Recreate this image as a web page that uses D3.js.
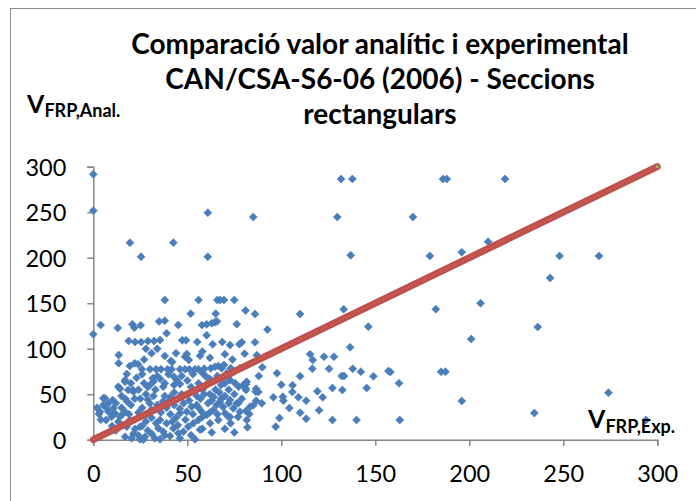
<!DOCTYPE html>
<html>
<head>
<meta charset="utf-8">
<script src="https://cdn.jsdelivr.net/npm/d3@7"></script>
<style>
  html, body { margin: 0; padding: 0; background: #fff; }
  svg { display: block; }
</style>
</head>
<body>
<svg id="chart" width="696" height="501"></svg>
<script>
// ---------- data ----------
const titleLines = ["Comparació valor analític i experimental", "CAN/CSA-S6-06 (2006) - Seccions", "rectangulars"];
const xTicks = [0, 50, 100, 150, 200, 250, 300];
const yTicks = [0, 50, 100, 150, 200, 250, 300];
// reference line (analytic = experimental)
const refLineX = [0, 300];
const refLineY = [0, 300];
// scatter points [V_FRP,Exp. , V_FRP,Anal.]
const scatterPoints = [
  // sparse upper / right
  [0,291.7],[0,251.7],[19.5,216.5],[25.4,201],[42.6,216.5],[60.9,249.5],[60.9,201],[85.1,244.7],
  [129.8,244.7],[131.8,286.5],[137.8,286.5],[136.9,202.6],
  [38,153.5],[56,153.5],[66,153.5],[67.5,153.5],[69.5,153.5],[75,153.5],
  [186,286.5],[188,286.5],[219,286.5],[170,244.7],[179,202],[196,206],[210,217.6],[248,202],[269,202],[243,177.7],
  [206,150],[201,110.6],[236.4,123.8],[196,42.5],[234.6,29.3],[274,51.7],[294,21.6],
  // middle region
  [81,142],[86,138],[110,138],[133.2,143.3],[182.2,143.3],[76.3,127],[92.6,121],[146.3,124.2],
  [77.7,105],[79,107],[72.7,104],[86,107],[80.5,94.5],[87,92.8],[136.6,101.5],[115.3,93.8],[116.7,87.6],
  [122.7,91.2],[128,91.2],[89.9,79.6],[72.7,65.6],[88,70],[97.7,73],[110,69.7],[116.5,78],[125.4,78],
  [132.1,70],[133.4,70],[138,78],[142.3,74.7],[149,69.7],[157,75.5],[158,74.4],[185,74.7],[187.3,74.7],
  [162.6,62],[81.2,60.9],[81.2,54.6],[86.6,56],[87.8,52.4],[100,60.4],[106,59.8],[105.9,52.4],[119.2,53.2],
  [127.2,56.8],[132.5,54.6],[145.4,56.8],[72.7,43.6],[77.1,40],[86.6,42.9],[85.1,37.8],[89.6,40],[95.8,46.6],
  [100.8,47.3],[101.1,42.9],[109.1,46.6],[113.2,42.9],[122,46.6],[104.3,34.8],[110,29.7],[120.1,32.3],
  [72.7,25],[81.2,31.5],[83,28.2],[99,23.8],[113.2,23.1],[127.2,21.6],[140,21.6],[163,21.6],[82,13.6],[97,14.3],
  // dense cluster, upper part
  [0,116],[3.9,126],[13,122.8],[20.8,126.8],[21.8,123],[25.2,125.7],
  [51.8,138.5],[65.1,138.5],[35,130],[38,130.8],[45.2,126],[57.8,126],[60.3,126.8],[63,127.9],[64.6,129],[65.8,130],
  [18.8,108.5],[22.2,107.4],[25.5,107.4],[29.1,108.5],[32.3,108.5],[35.5,109.5],
  [39,117],[47.3,109.2],[49.3,109.2],[55.3,107.4],[60.3,114.7],[63.5,104.8],[68.6,107.4],
  [13.5,93],[13.5,84],[49.7,94.2],[48.8,91.2],[50.8,87.6],[56.8,92.3],[42,85.4],
  [19.4,81],[22,84],[23.8,82.9],
  [25.9,77.4],[30.2,77.4],[33.4,77.4],[36,77.4],[39.5,77.4],[41.7,77.4],[46.1,77.4],[48.8,77.4],[51.1,77.4],
  [54.1,77.4],[55.9,77.4],[62.5,78.5],[68.3,78.5],[73.1,78.5],[78,78.5],
  [41.2,86.5],[17.8,72.2],[16.9,63.7],[14.2,56],[21,54.6],[31.6,67.5],[35.5,67],[37.2,58.2],[42.9,69.2],
  [44.4,65.6],[46.1,61.2],[58.2,73],[60,69.2],[61.7,67],[64.7,80.2],[66.5,81],[69.5,82.1],[71,73],
  [75.4,62],[77.3,58.2],[79.8,60.1],[80.9,56.5],[81.6,63.7],[86.4,52.8],
  [18.6,54.6],[21.3,52.8],[16.9,65.6],[13.3,58.2],
  [27,88],[31,95],[34,100],[44,95],[58,97],[62,90],[70,94],[74,88],[38,92],[28,100],
  [20,62],[23,68],[26,72],[29,58],[32,64],[34,70],[38,62],[40,72],[43,60],[47,70],[50,65],[53,72],
  [56,62],[59,78],[63,65],[66,70],[69,68],[72,70],[75,75],
  // dense cluster, lower part
  [6.2,45.5],[10.3,43.6],[5.3,38.1],[7.1,34.5],[10.6,34.5],[3.6,30.8],[3,28.2],[8,30.8],[11.5,29],
  [9.8,25.3],[14.2,25.3],[16,29],[6.8,21.6],[13.3,19.8],[5.3,45.5],
  [25,45],[28,50],[30,40],[33,55],[38,48],[40,42],[43,52],[45,45],[48,40],[50,50],[52,58],[55,48],
  [58,55],[60,60],[62,50],[65,55],[68,60],[70,48],[72,55],[57,45],[63,43],[68,45],[30,60],[27,62],[24,55],
  [12,40],[15,35],[18,42],[20,38],[22,45],[24,30],[26,35],[28,28],[29,44],[31,33],[32,48],[34,38],[36,30],
  [37,42],[39,35],[41,28],[41,47],[43,38],[44,24],[46,34],[47,50],[49,22],[51,43],[53,28],[54,53],[56,35],
  [58,25],[59,50],[61,40],[62,30],[64,47],[66,28],[67,52],[69,36],[70,62],[72,40],[73,18],[75,50],[77,25],
  [79,45],[8,40],[2,35],[4,22],[15,48],[17,45],
  // under the reference line
  [16.9,30.8],[19.5,21.6],[17.8,14.3],[22.2,11.8],[24.8,14.3],[21.3,6.3],[23.9,4.8],[27.5,3.3],[31.1,6.3],
  [34.6,12.5],[37.2,8.8],[33.4,18],[35.5,21.6],[39,18],[42.6,12.5],[45.2,7],[47.9,8.8],[50.5,14.3],[53.2,18],
  [55.9,21.6],[46.1,29],[49.7,30.8],[52.3,36.3],[55,38.1],[57.7,30.8],[60.3,27.1],[63.8,32.6],[65.6,38.1],
  [67.4,41.8],[70.1,29],[71.8,25.3],[74.5,34.5],[76.3,40],[78,30.8],[81.6,21.6],[83.4,36.3],[66.5,21.6],
  [62.1,18],[56.8,11],[54.1,0.4],[46.1,1.5],[40.8,4],[26.6,0],[20.4,1.5],[16.9,3.3],[32.8,1.5],[35.5,0.4],[24.8,0.4],
  [28,20],[31,24],[26,15],[19,28],[42,20],[45,16],[58,12],[63,8],[70,12],[75,8],[52,5],[29,10],[38,5],[10,15],[12,10]
];

// ---------- layout ----------
const svg = d3.select("#chart");
const x = d3.scaleLinear().domain([0, 300]).range([93.3, 657.3]);
const y = d3.scaleLinear().domain([0, 300]).range([439.7, 166.7]);
const axisColor = "#868686";
const fontFam = "Lato, 'Open Sans', sans-serif";

// outer chart border
svg.append("rect")
  .attr("x", 10.5).attr("y", 8.5)
  .attr("width", 720).attr("height", 520)
  .attr("fill", "none").attr("stroke", "#8c8c8c").attr("stroke-width", 1);

// title
svg.append("text")
  .attr("text-anchor", "middle")
  .attr("font-family", fontFam)
  .attr("font-weight", "bold")
  .attr("font-size", 28)
  .attr("fill", "#000")
  .selectAll("tspan").data(titleLines).join("tspan")
  .attr("x", 380)
  .attr("y", (d, i) => 54 + i * 35)
  .text(d => d);

// axes
const yAxis = svg.append("g")
  .attr("transform", `translate(${x(0)},0)`)
  .call(d3.axisLeft(y).tickValues(yTicks).tickSize(6).tickPadding(21).tickFormat(d3.format("d")));
const xAxis = svg.append("g")
  .attr("transform", `translate(0,${y(0)})`)
  .call(d3.axisBottom(x).tickValues(xTicks).tickSize(6).tickFormat(d3.format("d")));

[yAxis, xAxis].forEach(g => {
  g.select(".domain").attr("stroke", axisColor).attr("stroke-width", 1.5);
  g.selectAll(".tick line").attr("stroke", axisColor).attr("stroke-width", 1.5);
  g.selectAll(".tick text")
    .attr("font-family", fontFam)
    .attr("font-size", 23.5)
    .attr("fill", "#000");
});
xAxis.selectAll(".tick text").attr("y", 42).attr("dy", 0);
yAxis.selectAll(".tick text").attr("dy", "0.36em");

// scatter points (diamonds)
const diamond = d3.symbol().type(d3.symbolSquare).size(32);
svg.append("g").selectAll("path").data(scatterPoints).join("path")
  .attr("d", diamond)
  .attr("transform", d => `translate(${x(d[0])},${y(d[1])}) rotate(45)`)
  .attr("fill", "#4a7ebb")
  .attr("stroke", "#4a7ebb")
  .attr("stroke-width", 0.6);

// reference line
const lineData = refLineX.map((v, i) => [v, refLineY[i]]);
const lineGen = d3.line().x(d => x(d[0])).y(d => y(d[1]));
svg.append("path").datum(lineData)
  .attr("d", lineGen)
  .attr("fill", "none")
  .attr("stroke", "#c0504d")
  .attr("stroke-width", 7)
  .attr("stroke-linecap", "round");
svg.append("path").datum(lineData)
  .attr("d", lineGen)
  .attr("fill", "none")
  .attr("stroke", "#d8935e")
  .attr("stroke-width", 1)
  .attr("stroke-dasharray", "1.5,2")
  .attr("opacity", 0.6);
svg.append("circle")
  .attr("cx", x(refLineX[1])).attr("cy", y(refLineY[1]))
  .attr("r", 1.6).attr("fill", "#9bbb59");

// axis titles
function axisTitle(px, py, sub, subDy) {
  const t = svg.append("text")
    .attr("x", px).attr("y", py)
    .attr("font-family", fontFam)
    .attr("font-weight", "bold")
    .attr("fill", "#000");
  t.append("tspan").attr("font-size", 25).text("V");
  t.append("tspan").attr("font-size", 18).attr("dy", subDy).text(sub);
}
axisTitle(27, 113, "FRP,Anal.", 4);
axisTitle(588, 428, "FRP,Exp.", 4.5);
</script>
</body>
</html>
